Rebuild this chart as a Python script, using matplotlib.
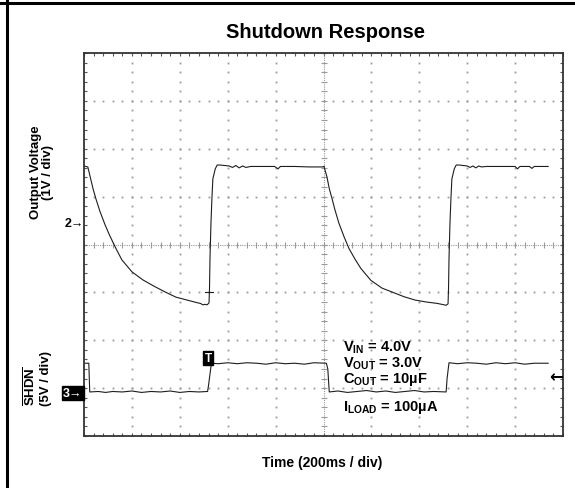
import numpy as np
import matplotlib
matplotlib.use("Agg")
import matplotlib.pyplot as plt
from matplotlib.lines import Line2D

plt.rcParams['font.family'] = ['Liberation Sans', 'DejaVu Sans']
plt.rcParams['mathtext.fontset'] = 'custom'
plt.rcParams['mathtext.rm'] = 'Liberation Sans'
plt.rcParams['mathtext.bf'] = 'Liberation Sans:bold'
plt.rcParams['mathtext.it'] = 'Liberation Sans:italic'

# scope screen: 10 x 8 divisions, time in divisions (200ms/div)
# output voltage trace, first cycle
out1_x = [0.00, 0.08, 0.13, 0.19, 0.25, 0.33, 0.44, 0.54, 0.67, 0.79, 1.00, 1.23,
          1.46, 1.69, 1.92, 2.15, 2.38, 2.43, 2.48, 2.53, 2.57, 2.61, 2.62, 2.63,
          2.65, 2.67, 2.69, 2.74, 2.78, 2.84, 3.03, 3.10, 3.17, 3.24, 3.31, 3.38,
          3.48, 3.60, 3.98, 4.05, 4.10, 4.40, 4.70, 4.98, 5.01]
out1_y = [5.64, 5.62, 5.41, 5.16, 4.95, 4.70, 4.41, 4.18, 3.91, 3.68, 3.43, 3.26,
          3.13, 3.01, 2.90, 2.84, 2.78, 2.77, 2.74, 2.75, 2.74, 2.78, 3.07, 3.70,
          4.43, 4.95, 5.37, 5.58, 5.66, 5.66, 5.64, 5.61, 5.65, 5.60, 5.64, 5.61,
          5.63, 5.63, 5.63, 5.58, 5.63, 5.63, 5.62, 5.62, 5.63]
# output voltage trace, second cycle
out2_x = [5.01, 5.07, 5.12, 5.18, 5.24, 5.32, 5.43, 5.53, 5.66, 5.78, 5.99, 6.22,
          6.45, 6.68, 6.91, 7.14, 7.37, 7.42, 7.47, 7.52, 7.56, 7.60, 7.61, 7.62,
          7.64, 7.66, 7.68, 7.73, 7.77, 7.83, 8.00, 8.06, 8.12, 8.18, 8.24, 8.30,
          8.40, 8.80, 9.00, 9.05, 9.10, 9.30, 9.35, 9.40, 9.69]
out2_y = [5.63, 5.42, 5.17, 4.95, 4.72, 4.45, 4.16, 3.92, 3.69, 3.50, 3.25, 3.09,
          3.00, 2.91, 2.84, 2.80, 2.77, 2.76, 2.75, 2.74, 2.73, 2.76, 3.07, 3.70,
          4.43, 4.95, 5.37, 5.58, 5.66, 5.66, 5.64, 5.61, 5.64, 5.60, 5.64, 5.62,
          5.63, 5.63, 5.63, 5.58, 5.63, 5.63, 5.59, 5.63, 5.63]

# SHDN trace
shdn_x = [0.02, 0.10, 0.12, 0.30, 0.45, 0.60, 0.80, 1.00, 1.20, 1.40, 1.60, 1.80,
          2.00, 2.20, 2.40, 2.58, 2.60, 2.66, 2.80, 3.00, 3.20, 3.40, 3.60, 3.80,
          4.00, 4.20, 4.40, 4.60, 4.80, 5.06, 5.09, 5.12, 5.30, 5.50, 5.70, 5.90,
          6.10, 6.30, 6.50, 6.70, 6.90, 7.10, 7.30, 7.56, 7.58, 7.62, 7.80, 8.00,
          8.20, 8.40, 8.60, 8.80, 9.00, 9.20, 9.40, 9.69]
shdn_y = [1.52, 1.52, 0.92, 0.93, 0.91, 0.93, 0.92, 0.94, 0.91, 0.93, 0.92, 0.94,
          0.91, 0.93, 0.92, 0.93, 1.06, 1.52, 1.51, 1.53, 1.51, 1.53, 1.52, 1.50,
          1.53, 1.51, 1.52, 1.50, 1.53, 1.52, 1.40, 0.92, 0.94, 0.91, 0.93, 0.95,
          0.92, 0.94, 0.91, 0.93, 0.95, 0.92, 0.93, 0.92, 1.20, 1.53, 1.51, 1.53,
          1.52, 1.50, 1.53, 1.51, 1.53, 1.50, 1.52, 1.52]

notes = [r"$\mathbf{V_{IN}}$ = 4.0V", r"$\mathbf{V_{OUT}}$ = 3.0V",
         r"$\mathbf{C_{OUT}}$ = 10µF", r"$\mathbf{I_{LOAD}}$ = 100µA"]

W, H = 575, 489
fig = plt.figure(figsize=(W / 100, H / 100), dpi=100)
ax = fig.add_axes([84 / W, 1 - 437 / H, 479 / W, 383 / H])
ax.set_xlim(0, 10)
ax.set_ylim(0, 8)

grid_c = "#9a9a9a"
minor = np.arange(0, 10.01, 0.2)
minor_y = np.arange(0, 8.01, 0.2)
for gx in range(1, 10):
    if gx == 5:
        continue
    ax.plot(np.full_like(minor_y, gx), minor_y, ls="none", marker="s", ms=1.3,
            mew=0, color=grid_c)
for gy in range(1, 8):
    if gy == 4:
        continue
    ax.plot(minor, np.full_like(minor, gy), ls="none", marker="s", ms=1.3,
            mew=0, color=grid_c)
# center cross lines with small ticks
ax.axvline(5, color=grid_c, lw=0.8, ls=(0, (1, 1)))
ax.axhline(4, color=grid_c, lw=0.8, ls=(0, (1, 1)))
ax.plot(minor, np.full_like(minor, 4), ls="none", marker="|", ms=4, mew=0.8,
        color=grid_c)
ax.plot(np.full_like(minor_y, 5), minor_y, ls="none", marker="_", ms=4, mew=0.8,
        color=grid_c)

ax.set_xticks(minor)
ax.set_yticks(minor_y)
ax.tick_params(direction="in", length=2.5, width=0.8, color="#555555",
               top=True, right=True, labelbottom=False, labelleft=False)
for s in ax.spines.values():
    s.set_linewidth(1.3)
    s.set_color("#333333")

tr = "#1e1e1e"
ax.plot(out1_x, out1_y, color=tr, lw=0.8)
ax.plot(out2_x, out2_y, color=tr, lw=0.8)
ax.plot(shdn_x, shdn_y, color=tr, lw=0.8)
# cursor mark on first rise
ax.plot([2.52, 2.70], [3.0, 3.0], color=tr, lw=0.8)


def px(x, y):
    return x / W, 1 - y / H


fig.text(*px(325, 33), "Shutdown Response", ha="center", va="center",
         fontsize=14.5, fontweight="bold")
fig.text(*px(322, 463), "Time (200ms / div)", ha="center", va="center",
         fontsize=10, fontweight="bold")
fig.text(*px(36, 172), "Output Voltage", rotation=90, ha="center", va="center",
         fontsize=9.5, fontweight="bold")
fig.text(*px(48, 172), "(1V / div)", rotation=90, ha="center", va="center",
         fontsize=9.5, fontweight="bold")
fig.text(*px(31, 386), r"$\overline{\mathbf{SHDN}}$", rotation=90, ha="center",
         va="center", fontsize=9.5)
fig.text(*px(46, 379), "(5V / div)", rotation=90, ha="center", va="center",
         fontsize=9.5, fontweight="bold")

fig.text(*px(74, 224), "2→", ha="center", va="center", fontsize=9,
         fontweight="bold")
fig.text(*px(73, 394), "3→", ha="center", va="center", fontsize=9,
         fontweight="bold", color="white",
         bbox=dict(boxstyle="square,pad=0.1", fc="black", ec="black"))
fig.text(*px(208, 359), "T", ha="center", va="center", fontsize=8.5,
         fontweight="bold", color="white",
         bbox=dict(boxstyle="square,pad=0.12", fc="black", ec="black"))
fig.text(*px(556, 377), "←", ha="center", va="center", fontsize=12,
         family="DejaVu Sans", fontweight="bold")

for t, yb in zip(notes, [352, 368, 383, 411]):
    fig.text(*px(343, yb), t, ha="left", va="baseline", fontsize=10.5,
             fontweight="bold")

# outer frame
fig.add_artist(Line2D([7 / W, 7 / W], [0, 1], transform=fig.transFigure,
                      color="black", lw=2.2))
fig.add_artist(Line2D([0, 1], [1 - 4 / H, 1 - 4 / H], transform=fig.transFigure,
                      color="black", lw=2.2))

fig.savefig("out.png", dpi=100)
